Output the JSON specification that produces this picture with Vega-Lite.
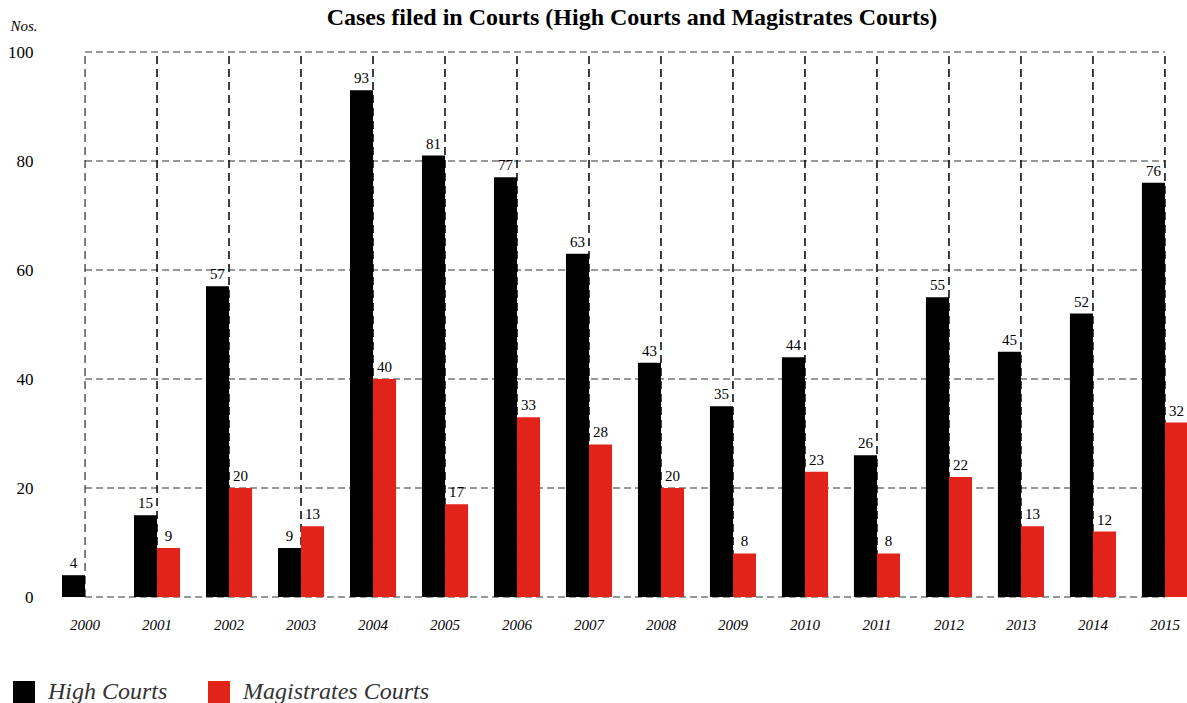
{
  "$schema": "https://vega.github.io/schema/vega-lite/v6.json",
  "width": 1126,
  "height": 545,
  "autosize": {"type": "none"},
  "padding": {"left": 62, "top": 52, "right": 0, "bottom": 106},
  "background": "white",
  "title": {
    "text": "Cases filed in Courts (High Courts and Magistrates Courts)",
    "font": "Liberation Serif",
    "fontSize": 24,
    "fontWeight": "bold",
    "color": "#000000",
    "anchor": "middle",
    "frame": "group",
    "dx": 7,
    "offset": -12
  },
  "config": {"view": {"stroke": null}},
  "datasets": {
    "cases": [
      {"year": "2000", "court": "High Courts", "cases": 4},
      {"year": "2001", "court": "High Courts", "cases": 15},
      {"year": "2001", "court": "Magistrates Courts", "cases": 9},
      {"year": "2002", "court": "High Courts", "cases": 57},
      {"year": "2002", "court": "Magistrates Courts", "cases": 20},
      {"year": "2003", "court": "High Courts", "cases": 9},
      {"year": "2003", "court": "Magistrates Courts", "cases": 13},
      {"year": "2004", "court": "High Courts", "cases": 93},
      {"year": "2004", "court": "Magistrates Courts", "cases": 40},
      {"year": "2005", "court": "High Courts", "cases": 81},
      {"year": "2005", "court": "Magistrates Courts", "cases": 17},
      {"year": "2006", "court": "High Courts", "cases": 77},
      {"year": "2006", "court": "Magistrates Courts", "cases": 33},
      {"year": "2007", "court": "High Courts", "cases": 63},
      {"year": "2007", "court": "Magistrates Courts", "cases": 28},
      {"year": "2008", "court": "High Courts", "cases": 43},
      {"year": "2008", "court": "Magistrates Courts", "cases": 20},
      {"year": "2009", "court": "High Courts", "cases": 35},
      {"year": "2009", "court": "Magistrates Courts", "cases": 8},
      {"year": "2010", "court": "High Courts", "cases": 44},
      {"year": "2010", "court": "Magistrates Courts", "cases": 23},
      {"year": "2011", "court": "High Courts", "cases": 26},
      {"year": "2011", "court": "Magistrates Courts", "cases": 8},
      {"year": "2012", "court": "High Courts", "cases": 55},
      {"year": "2012", "court": "Magistrates Courts", "cases": 22},
      {"year": "2013", "court": "High Courts", "cases": 45},
      {"year": "2013", "court": "Magistrates Courts", "cases": 13},
      {"year": "2014", "court": "High Courts", "cases": 52},
      {"year": "2014", "court": "Magistrates Courts", "cases": 12},
      {"year": "2015", "court": "High Courts", "cases": 76},
      {"year": "2015", "court": "Magistrates Courts", "cases": 32}
    ],
    "gridlines": [{"v": 0}, {"v": 20}, {"v": 40}, {"v": 60}, {"v": 80}, {"v": 100}]
  },
  "layer": [
    {
      "data": {"name": "cases"},
      "mark": {"type": "bar", "opacity": 0},
      "encoding": {
        "x": {
          "field": "year",
          "type": "nominal",
          "sort": null,
          "scale": {"paddingInner": 0.36, "paddingOuter": 0},
          "axis": {
            "title": null,
            "domain": false,
            "ticks": false,
            "grid": false,
            "bandPosition": 0.5,
            "labelAngle": 0,
            "labelAlign": "center",
            "labelDx": -2,
            "labelFont": "Liberation Serif",
            "labelFontStyle": "italic",
            "labelFontSize": 15,
            "labelColor": "#000000",
            "labelPadding": 20
          }
        },
        "xOffset": {
          "field": "court",
          "type": "nominal",
          "scale": {"domain": ["High Courts", "Magistrates Courts"], "paddingInner": 0, "paddingOuter": 0}
        },
        "y": {
          "field": "cases",
          "type": "quantitative",
          "scale": {"domain": [0, 100], "nice": false},
          "axis": {
            "values": [0, 20, 40, 60, 80, 100],
            "title": "Nos.",
            "titleAngle": 0,
            "titleAlign": "left",
            "titleBaseline": "middle",
            "titleX": -52,
            "titleY": -27,
            "titleFont": "Liberation Serif",
            "titleFontStyle": "italic",
            "titleFontWeight": "normal",
            "titleFontSize": 15,
            "titleColor": "#000000",
            "domain": false,
            "ticks": false,
            "grid": false,
            "labelFont": "Liberation Serif",
            "labelFontSize": 17,
            "labelColor": "#000000",
            "labelPadding": 29
          }
        }
      }
    },
    {
      "data": {"name": "gridlines"},
      "mark": {"type": "rule", "stroke": "#333333", "strokeWidth": 1, "strokeDash": [7, 4]},
      "encoding": {
        "x": {"datum": "2000", "type": "nominal"},
        "x2": {"datum": "2015"},
        "y": {"field": "v", "type": "quantitative"}
      }
    },
    {
      "data": {"name": "cases"},
      "mark": {"type": "rule", "stroke": "#000000", "strokeWidth": 1, "strokeDash": [8, 5]},
      "encoding": {
        "x": {"field": "year", "type": "nominal"},
        "y": {"datum": 0, "type": "quantitative"},
        "y2": {"datum": 100}
      }
    },
    {
      "data": {"name": "cases"},
      "mark": {"type": "bar"},
      "encoding": {
        "x": {"field": "year", "type": "nominal", "sort": null},
        "xOffset": {"field": "court", "type": "nominal"},
        "y": {"field": "cases", "type": "quantitative"},
        "color": {
          "field": "court",
          "type": "nominal",
          "scale": {"domain": ["High Courts", "Magistrates Courts"], "range": ["#000000", "#e2231a"]},
          "legend": {
            "title": null,
            "orient": "none",
            "legendX": -50,
            "legendY": 628,
            "direction": "horizontal",
            "symbolType": "square",
            "symbolSize": 484,
            "symbolStrokeWidth": 0,
            "labelFont": "Liberation Serif",
            "labelFontStyle": "italic",
            "labelFontSize": 24,
            "labelColor": "#333333",
            "labelOffset": 12,
            "columnPadding": 39,
            "labelLimit": 400
          }
        }
      }
    },
    {
      "data": {"name": "cases"},
      "mark": {"type": "text", "baseline": "bottom", "dy": -4, "font": "Liberation Serif", "fontSize": 15, "color": "#000000"},
      "encoding": {
        "x": {"field": "year", "type": "nominal", "sort": null},
        "xOffset": {"field": "court", "type": "nominal"},
        "y": {"field": "cases", "type": "quantitative"},
        "text": {"field": "cases", "type": "quantitative"}
      }
    }
  ]
}
